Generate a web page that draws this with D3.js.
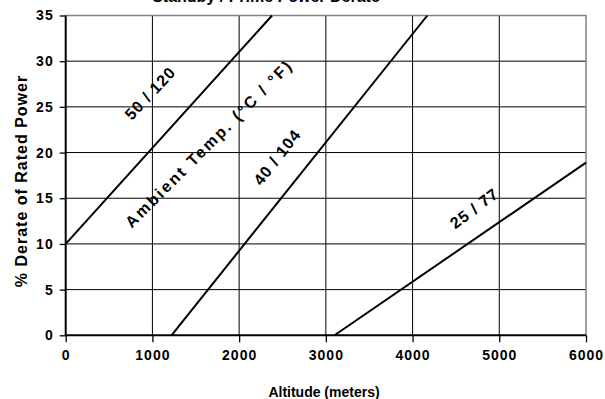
<!DOCTYPE html>
<html>
<head>
<meta charset="utf-8">
<script src="https://cdnjs.cloudflare.com/ajax/libs/d3/7.8.5/d3.min.js"></script>
<style>
  body { margin: 0; background: #fff; }
  text { font-family: "Liberation Sans", Arial, sans-serif; font-weight: bold; fill: #000; }
</style>
</head>
<body>
<div id="derateChart"></div>
<script>
// axis ticks
var altitudeTicks = [0, 1000, 2000, 3000, 4000, 5000, 6000];
var derateTicks = [0, 5, 10, 15, 20, 25, 30, 35];

// derate curves per ambient temperature, [altitude m, % derate]
var curve50 = [[0, 10], [2380, 35]];
var curve40 = [[1220, 0], [4170, 35]];
var curve25 = [[3100, 0], [6000, 18.9]];
var curveNames = ["50 / 120", "40 / 104", "25 / 77"];

// label anchors, [altitude, derate, angle]
var labelSpots = [[973, 26.5, -47], [2438, 19.5, -52], [4711, 13.9, -37]];
var ambientSpot = [1653, 21, -45];

var W = 605, H = 399;
var margin = {top: 15.5, right: 19, bottom: 63.7, left: 65.7};

var svg = d3.select("#derateChart")
  .append("svg")
  .attr("width", W)
  .attr("height", H);

var x = d3.scaleLinear().domain([0, 6000]).range([margin.left, W - margin.right]);
var y = d3.scaleLinear().domain([0, 35]).range([H - margin.bottom, margin.top]);

// title, only its bottom edge shows at the top (as in the source)
svg.append("text")
  .attr("x", 266)
  .attr("y", 1.5)
  .attr("text-anchor", "middle")
  .style("font-size", "16px")
  .text("Standby / Prime Power Derate");

// grid lines
svg.append("g")
  .selectAll("line")
  .data(altitudeTicks.slice(1, -1))
  .enter()
  .append("line")
  .attr("x1", function(d) { return x(d); })
  .attr("x2", function(d) { return x(d); })
  .attr("y1", y(0))
  .attr("y2", y(35))
  .attr("stroke", "#000")
  .attr("stroke-width", 1);

svg.append("g")
  .selectAll("line")
  .data(derateTicks.slice(1, -1))
  .enter()
  .append("line")
  .attr("x1", x(0))
  .attr("x2", x(6000))
  .attr("y1", function(d) { return y(d); })
  .attr("y2", function(d) { return y(d); })
  .attr("stroke", "#000")
  .attr("stroke-width", 1);

// top and right frame in grey
svg.append("path")
  .attr("d", "M" + x(0) + "," + y(35) + "H" + x(6000) + "V" + y(0))
  .attr("fill", "none")
  .attr("stroke", "#808080")
  .attr("stroke-width", 1.5);

// axes
var xAxis = svg.append("g")
  .attr("transform", "translate(0," + y(0) + ")")
  .call(d3.axisBottom(x).tickValues(altitudeTicks).tickSize(7).tickPadding(8).tickFormat(d3.format("d")));
var yAxis = svg.append("g")
  .attr("transform", "translate(" + x(0) + ",0)")
  .call(d3.axisLeft(y).tickValues(derateTicks).tickSize(6).tickPadding(6));

[xAxis, yAxis].forEach(function(ax) {
  ax.select(".domain").attr("stroke", "#000").attr("stroke-width", 2);
  ax.selectAll(".tick line").attr("stroke", "#000").attr("stroke-width", 1.3);
  ax.selectAll(".tick text")
    .style("font-family", "'Liberation Sans', Arial, sans-serif")
    .style("font-weight", "bold")
    .style("font-size", "14px")
    .style("letter-spacing", "1px")
    .attr("fill", "#000");
});
yAxis.select(".domain").attr("d", "M0," + y(35) + "V" + y(0));
xAxis.select(".domain").attr("d", "M" + x(0) + ",0H" + x(6000));

// derate curves
var line = d3.line()
  .x(function(d) { return x(d[0]); })
  .y(function(d) { return y(d[1]); });

svg.append("g")
  .selectAll("path")
  .data([curve50, curve40, curve25])
  .enter()
  .append("path")
  .attr("d", line)
  .attr("fill", "none")
  .attr("stroke", "#000")
  .attr("stroke-width", 2);

// curve labels
svg.append("g")
  .selectAll("text")
  .data(labelSpots)
  .enter()
  .append("text")
  .attr("transform", function(d) { return "translate(" + x(d[0]) + "," + y(d[1]) + ") rotate(" + d[2] + ")"; })
  .attr("text-anchor", "middle")
  .attr("dy", "0.35em")
  .style("font-size", "16px")
  .style("letter-spacing", "1px")
  .text(function(d, i) { return curveNames[i]; });

svg.append("text")
  .attr("transform", "translate(" + x(ambientSpot[0]) + "," + y(ambientSpot[1]) + ") rotate(" + ambientSpot[2] + ")")
  .attr("text-anchor", "middle")
  .attr("dy", "0.35em")
  .style("font-size", "16px")
  .style("letter-spacing", "2.3px")
  .text("Ambient Temp. (°C / °F)");

// axis titles
svg.append("text")
  .attr("x", 324)
  .attr("y", 397)
  .attr("text-anchor", "middle")
  .style("font-size", "14px")
  .text("Altitude (meters)");

svg.append("text")
  .attr("transform", "translate(27,181) rotate(-90)")
  .attr("text-anchor", "middle")
  .style("font-size", "16px")
  .style("letter-spacing", "1px")
  .text("% Derate of Rated Power");
</script>
</body>
</html>
